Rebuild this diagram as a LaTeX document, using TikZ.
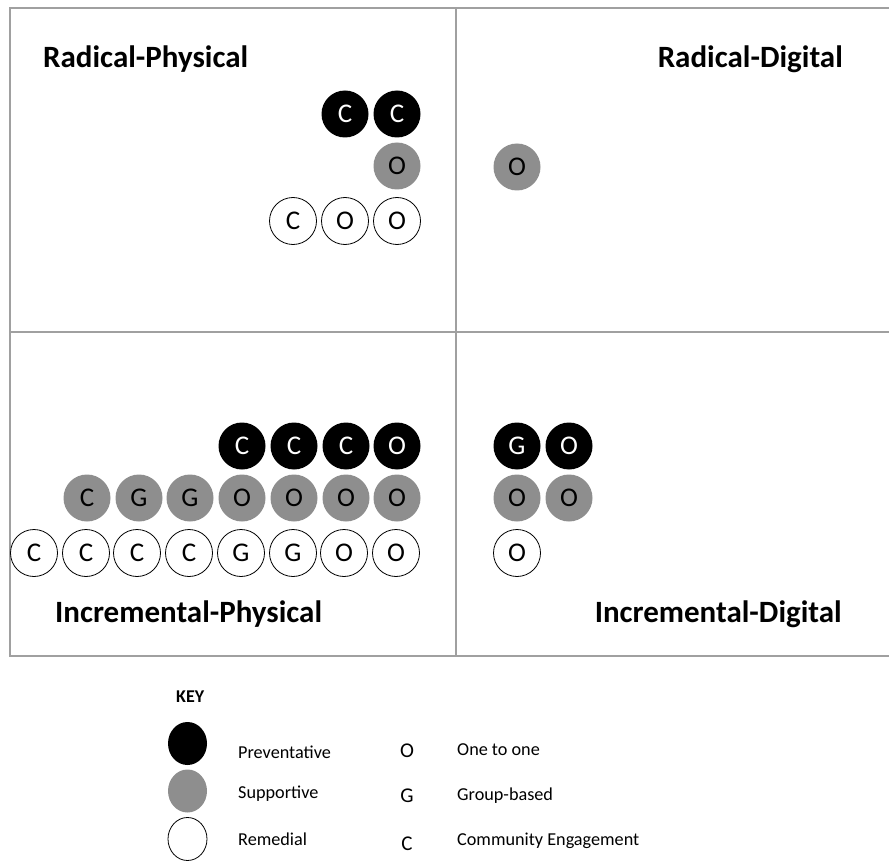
\documentclass[tikz,border=0pt]{standalone}
\usepackage{fontspec}
\setmainfont{Carlito}
\definecolor{frameg}{HTML}{A0A0A0}
\definecolor{suppg}{HTML}{8E8E8E}
\tikzset{
  dot/.style={circle, minimum size=47pt, inner sep=0pt, font=\fontsize{27}{27}\selectfont},
  prev/.style={dot, fill=black, text=white},
  supp/.style={dot, fill=suppg, text=black},
  rem/.style={dot, draw=black, line width=0.8pt, fill=white, text=black},
  quadtitle/.style={inner sep=0pt, font=\fontsize{31}{31}\selectfont\bfseries},
  keytext/.style={inner sep=0pt, anchor=base west, font=\fontsize{18.2}{18.2}\selectfont},
  keyletter/.style={inner sep=0pt, anchor=base, font=\fontsize{21}{21}\selectfont},
  keyell/.style={ellipse, minimum width=39pt, minimum height=43pt, inner sep=0pt},
}
\usetikzlibrary{shapes.geometric}
\begin{document}
\begin{tikzpicture}[x=1pt,y=-1pt]
\useasboundingbox (0,0) rectangle (889,861);
\fill[white] (0,0) rectangle (889,861);
% frame
\draw[frameg, line width=2pt] (889,8) -- (10,8) -- (10,656) -- (889,656);
\draw[frameg, line width=2pt] (455.5,8) -- (455.5,656);
\draw[frameg, line width=2pt] (10,332) -- (889,332);
% titles
\node[quadtitle, anchor=base west] (trp) at (43,68) {Radical-Physical};
\node[quadtitle, anchor=base east] (trd) at (843,68) {Radical-Digital};
\node[quadtitle, anchor=base west] (tip) at (55,622) {Incremental-Physical};
\node[quadtitle, anchor=base east] (tid) at (842,622) {Incremental-Digital};
% Radical-Physical
\node[prev] (rp1) at (345,114) {C};
\node[prev] (rp2) at (397,114) {C};
\node[supp] (rp3) at (397,166) {O};
\node[rem] (rp4) at (293,221) {C};
\node[rem] (rp5) at (345,221) {O};
\node[rem] (rp6) at (397,221) {O};
% Radical-Digital
\node[supp] (rd1) at (517,167) {O};
% Incremental-Physical
\node[prev] (ip1) at (242,446) {C};
\node[prev] (ip2) at (294,446) {C};
\node[prev] (ip3) at (346,446) {C};
\node[prev] (ip4) at (397,446) {O};
\node[supp] (ip5) at (87,498) {C};
\node[supp] (ip6) at (139,498) {G};
\node[supp] (ip7) at (190,498) {G};
\node[supp] (ip8) at (242,498) {O};
\node[supp] (ip9) at (294,498) {O};
\node[supp] (ip10) at (346,498) {O};
\node[supp] (ip11) at (397,498) {O};
\node[rem] (ip12) at (34,553) {C};
\node[rem] (ip13) at (86,553) {C};
\node[rem] (ip14) at (137,553) {C};
\node[rem] (ip15) at (189,553) {C};
\node[rem] (ip16) at (241,553) {G};
\node[rem] (ip17) at (293,553) {G};
\node[rem] (ip18) at (344,553) {O};
\node[rem] (ip19) at (396,553) {O};
% Incremental-Digital
\node[prev] (id1) at (517,446) {G};
\node[prev] (id2) at (569,446) {O};
\node[supp] (id3) at (517,498) {O};
\node[supp] (id4) at (569,498) {O};
\node[rem] (id5) at (517,553) {O};
% key
\node[inner sep=0pt, anchor=base west, font=\fontsize{18}{18}\selectfont\bfseries] (key) at (176,702) {KEY};
\node[keyell, fill=black] (k1) at (187.5,743.5) {};
\node[keyell, fill=suppg] (k2) at (187.5,791) {};
\node[keyell, draw=black, line width=0.8pt] (k3) at (187.5,839) {};
\node[keytext] (kt1) at (238,758) {Preventative};
\node[keytext] (kt2) at (238,798) {Supportive};
\node[keytext] (kt3) at (238,845) {Remedial};
\node[keyletter] (kl1) at (407,757) {O};
\node[keyletter] (kl2) at (407,802) {G};
\node[keyletter] (kl3) at (407,850) {C};
\node[keytext] (kd1) at (457,755) {One to one};
\node[keytext] (kd2) at (457,800) {Group-based};
\node[keytext] (kd3) at (457,845) {Community Engagement};
\end{tikzpicture}
\end{document}
